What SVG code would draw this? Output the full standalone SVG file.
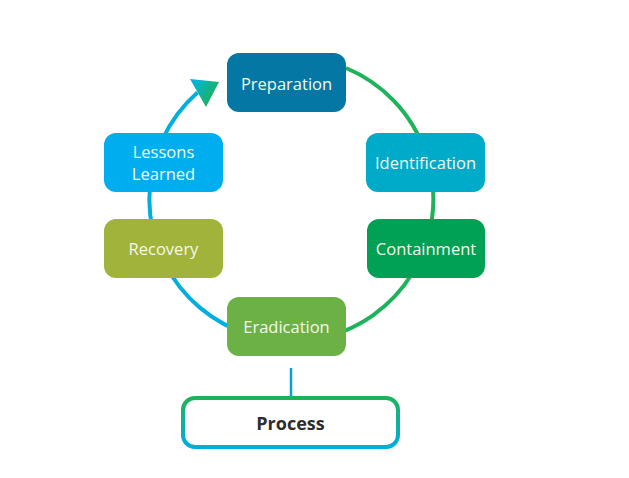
<svg xmlns="http://www.w3.org/2000/svg" width="629" height="478" viewBox="0 0 629 478">
<defs>
<linearGradient id="ring" gradientUnits="userSpaceOnUse" x1="150" y1="0" x2="432" y2="0">
<stop offset="0" stop-color="#00aee0"/>
<stop offset="0.35" stop-color="#00aee0"/>
<stop offset="0.62" stop-color="#1db35a"/>
<stop offset="1" stop-color="#1db35a"/>
</linearGradient>
<linearGradient id="arrowGrad" gradientUnits="userSpaceOnUse" x1="192" y1="80" x2="216" y2="96">
<stop offset="0" stop-color="#00b4e6"/>
<stop offset="1" stop-color="#1db35a"/>
</linearGradient>
<linearGradient id="procStroke" x1="0" y1="0" x2="0" y2="1">
<stop offset="0" stop-color="#1db35a"/>
<stop offset="1" stop-color="#00aee0"/>
</linearGradient>
<style>
.box{stroke:none}
.lbl{font-family:"Open Sans","Liberation Sans",sans-serif;font-size:16.5px;fill:#f4f8ea;text-anchor:middle;dominant-baseline:central}
.proc{font-family:"Open Sans","Liberation Sans",sans-serif;font-size:18px;font-weight:bold;fill:#2d2d2d;text-anchor:middle;dominant-baseline:central}
</style>
</defs>
<rect width="629" height="478" fill="#ffffff"/>
<g id="connectors">
<path d="M 346 68 A 142 142 0 1 1 197.5 92.5" fill="none" stroke="url(#ring)" stroke-width="4"/>
<polygon points="219,82 190,79 206,107" fill="url(#arrowGrad)"/>
<line x1="291" y1="368" x2="291" y2="397" stroke="#0a9fd6" stroke-width="2.5"/>
</g>
<g id="preparation">
<rect class="box" x="227" y="53" width="119" height="59" rx="12" fill="#0477a5"/>
<text class="lbl" x="286.5" y="83">Preparation</text>
</g>
<g id="identification">
<rect class="box" x="366" y="133" width="119" height="59" rx="12" fill="#00aac9"/>
<text class="lbl" x="425.5" y="162.5">Identification</text>
</g>
<g id="containment">
<rect class="box" x="367" y="219" width="118" height="59" rx="12" fill="#00a055"/>
<text class="lbl" x="426" y="248.5">Containment</text>
</g>
<g id="eradication">
<rect class="box" x="227" y="297" width="119" height="59" rx="12" fill="#6cb145"/>
<text class="lbl" x="286.5" y="326.5">Eradication</text>
</g>
<g id="recovery">
<rect class="box" x="104" y="219" width="119" height="59" rx="12" fill="#a2b33c"/>
<text class="lbl" x="163.5" y="248.5">Recovery</text>
</g>
<g id="lessons-learned">
<rect class="box" x="104" y="133" width="119" height="59" rx="12" fill="#00aeef"/>
<text class="lbl" x="163.5" y="151.5">Lessons</text>
<text class="lbl" x="163.5" y="173.5">Learned</text>
</g>
<g id="process">
<rect x="183" y="398" width="215" height="49" rx="12" fill="#ffffff" stroke="url(#procStroke)" stroke-width="4"/>
<text class="proc" x="290.5" y="423">Process</text>
</g>
</svg>
